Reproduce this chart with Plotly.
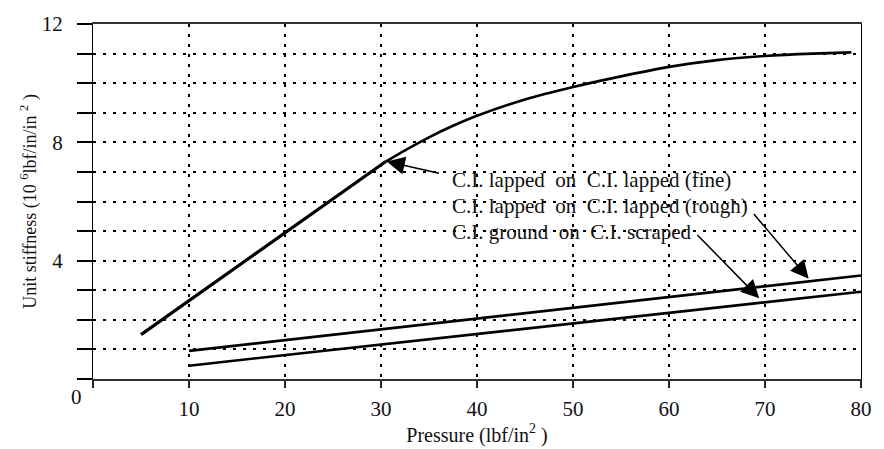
import plotly.graph_objects as go

# ---- data ----
fine_x = [5, 30.5, 32.5, 35, 37.5, 40, 45, 50, 55, 60, 65, 70, 75, 79]
fine_y = [1.5, 7.35, 7.73, 8.17, 8.56, 8.9, 9.45, 9.87, 10.23, 10.55, 10.78, 10.92, 11.0, 11.04]

rough_x = [10, 80]
rough_y = [0.95, 3.5]

scraped_x = [10, 80]
scraped_y = [0.45, 2.95]

x_ticks = [10, 20, 30, 40, 50, 60, 70, 80]
x_ticktext = ["10", "20", "30", "40", "50", "60", "70", "80"]
y_ticks = [4, 8, 12]
y_ticktext = ["4", "8", "12"]

labels = ["C.I. lapped\u00a0 on\u00a0 C.I. lapped (fine)",
          "C.I. lapped\u00a0 on\u00a0 C.I. lapped (rough)",
          "C.I. ground\u00a0 on\u00a0 C.I. scraped"]
label_x = 37.15
label_y = [6.74, 5.86, 4.97]

# arrows: (head_x, head_y, tail_x, tail_y)
arrows = [
    (30.6, 7.35, 36.2, 6.94),
    (74.55, 3.39, 68.7, 5.63),
    (69.4, 2.73, 62.8, 4.92),
]

FONT = "Liberation Serif"
INK = "#111111"
ELBOW = 1  # index where the straight part ends and the curved part begins

fig = go.Figure()
fig.add_trace(go.Scatter(x=fine_x[:ELBOW + 1], y=fine_y[:ELBOW + 1], mode="lines",
                         line=dict(color="black", width=3.2), showlegend=False))
fig.add_trace(go.Scatter(x=fine_x[ELBOW:], y=fine_y[ELBOW:], mode="lines",
                         line=dict(color="black", width=2.6, shape="spline",
                                   smoothing=0.6), showlegend=False))
fig.add_trace(go.Scatter(x=rough_x, y=rough_y, mode="lines",
                         line=dict(color="black", width=2.6), showlegend=False))
fig.add_trace(go.Scatter(x=scraped_x, y=scraped_y, mode="lines",
                         line=dict(color="black", width=2.6), showlegend=False))

for t, yy in zip(labels, label_y):
    fig.add_annotation(x=label_x, y=yy, xref="x", yref="y", text=t,
                       showarrow=False, xanchor="left", yanchor="middle",
                       font=dict(family=FONT, size=21, color=INK))

for hx, hy, tx, ty in arrows:
    fig.add_annotation(x=hx, y=hy, ax=tx, ay=ty, xref="x", yref="y",
                       axref="x", ayref="y", text="", showarrow=True,
                       arrowhead=2, arrowsize=2.4, arrowwidth=1.5,
                       arrowcolor="black", standoff=0, startstandoff=0)

# corner zero label
fig.add_annotation(x=-17 / 773, y=-18.5 / 366, xref="paper", yref="paper", text="0",
                   showarrow=False, xanchor="center", yanchor="middle",
                   font=dict(family=FONT, size=21, color=INK))

fig.update_layout(
    width=884, height=449,
    margin=dict(l=93, r=18, t=16, b=67),
    paper_bgcolor="white", plot_bgcolor="white",
    font=dict(family=FONT, size=21, color=INK),
    showlegend=False,
)
GRID = dict(color="black", width=1.6, dash="3px,7px")
fig.update_xaxes(
    range=[0, 80], tickvals=x_ticks, ticktext=x_ticktext,
    ticks="outside", ticklen=7, tickwidth=1.5, tickcolor="#222",
    minor=dict(tick0=0, dtick=10, ticks="outside", ticklen=7, tickwidth=1.5,
               tickcolor="#222", showgrid=False),
    showline=True, linecolor="#333", linewidth=2, mirror=True,
    showgrid=True, gridcolor=GRID["color"], gridwidth=GRID["width"], griddash=GRID["dash"],
    zeroline=False, tickfont=dict(family=FONT, size=21, color=INK),
    ticklabelstandoff=3,
    title=dict(text="Pressure (lbf/in<sup>2</sup> )",
               font=dict(family=FONT, size=20, color=INK), standoff=2),
)
fig.update_yaxes(
    range=[0, 12], tickvals=y_ticks, ticktext=y_ticktext,
    ticks="outside", ticklen=15, tickwidth=1.5, tickcolor="black",
    minor=dict(tick0=0, dtick=1, ticks="outside", ticklen=15, tickwidth=1.5,
               tickcolor="black", showgrid=True, gridcolor=GRID["color"],
               gridwidth=GRID["width"], griddash=GRID["dash"]),
    showline=True, linecolor="black", linewidth=1.2, mirror=True,
    showgrid=True, gridcolor=GRID["color"], gridwidth=GRID["width"], griddash=GRID["dash"],
    zeroline=False, tickfont=dict(family=FONT, size=21, color=INK),
    ticklabelstandoff=10,
    title=dict(text="Unit stiffness (10 <sup>6</sup>lbf/in/in <sup>2</sup> )",
               font=dict(family=FONT, size=18, color=INK), standoff=0),
)

fig.write_html("out.html")
